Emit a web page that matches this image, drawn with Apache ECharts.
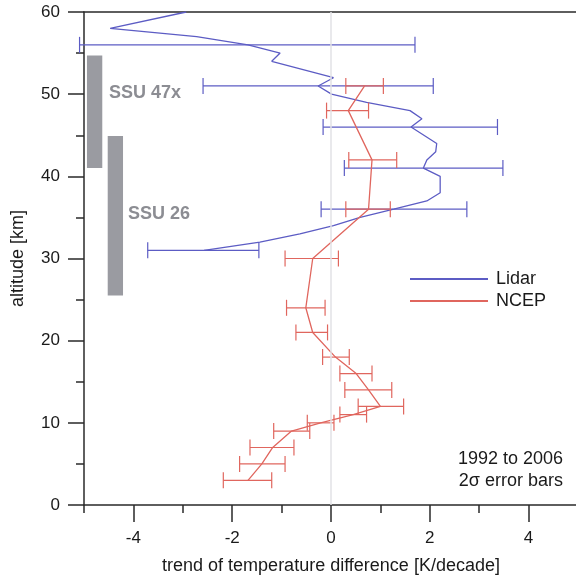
<!DOCTYPE html>
<html>
<head>
<meta charset="utf-8">
<script src="https://cdn.jsdelivr.net/npm/echarts@6/dist/echarts.min.js"></script>
<style>
html,body{margin:0;padding:0;background:#fff;}
#chart{width:576px;height:578px;}
</style>
</head>
<body>
<div id="chart"></div>
<script>
// Lidar trend profile (altitude km, trend K/decade)
const lidarAlt   = [60, 58, 57, 56, 55, 54, 52, 51, 50, 49, 48, 47, 46, 44, 43, 42, 41, 40, 38, 37, 36, 35, 34, 33, 32, 31];
const lidarTrend = [-2.93, -4.47, -2.72, -1.68, -1.03, -1.20, 0.05, -0.26, 0.01, 0.72, 1.60, 1.84, 1.62, 2.14, 2.12, 1.94, 1.87, 2.21, 2.21, 1.94, 1.27, 0.59, 0.05, -0.63, -1.44, -2.57];
// Lidar 2-sigma error bars
const lidarErrAlt  = [56, 51, 46, 41, 36, 31];
const lidarErrLow  = [-5.09, -2.59, -0.16, 0.27, -0.20, -3.71];
const lidarErrHigh = [1.70, 2.07, 3.37, 3.48, 2.75, -1.46];
// NCEP trend profile and error bars
const ncepAlt   = [51, 48, 42, 36, 30, 24, 21, 18, 16, 14, 12, 11, 10, 9, 7, 5, 3];
const ncepTrend = [0.68, 0.35, 0.83, 0.76, -0.37, -0.51, -0.37, 0.09, 0.51, 0.76, 1.00, 0.45, -0.21, -0.80, -1.18, -1.40, -1.68];
const ncepLow   = [0.30, -0.09, 0.36, 0.30, -0.93, -0.90, -0.71, -0.17, 0.18, 0.28, 0.55, 0.18, -0.48, -1.16, -1.64, -1.85, -2.18];
const ncepHigh  = [1.06, 0.76, 1.33, 1.20, 0.15, -0.12, -0.07, 0.37, 0.83, 1.23, 1.47, 0.72, 0.06, -0.43, -0.75, -0.93, -1.20];
// SSU channel weighting ranges
const ssuNames  = ['SSU 47x', 'SSU 26'];
const ssuLeft   = [-4.94, -4.52];
const ssuRight  = [-4.63, -4.21];
const ssuBottom = [41.0, 25.5];
const ssuTop    = [54.7, 44.9];
// Axis ticks
const xMajorTicks = [-4, -2, 0, 2, 4];

const FONT = 'Liberation Sans, Arial, Helvetica, sans-serif';
const BLUE = '#5c5cc4';
const RED = '#e0665e';
const AXIS = '#2a2a2a';

const zip = (xs, ys) => xs.map((x, i) => [x, ys[i]]);
const errData = (lo, hi, alt) => alt.map((a, i) => [lo[i], hi[i], a]);

function errorBarRenderer(color) {
  return function (params, api) {
    const a = api.coord([api.value(0), api.value(2)]);
    const b = api.coord([api.value(1), api.value(2)]);
    const h = 8;
    const style = { stroke: color, lineWidth: 1.2 };
    return {
      type: 'group',
      children: [
        { type: 'line', shape: { x1: a[0], y1: a[1], x2: b[0], y2: b[1] }, style },
        { type: 'line', shape: { x1: a[0], y1: a[1] - h, x2: a[0], y2: a[1] + h }, style },
        { type: 'line', shape: { x1: b[0], y1: b[1] - h, x2: b[0], y2: b[1] + h }, style }
      ]
    };
  };
}

const chart = echarts.init(document.getElementById('chart'), null, { renderer: 'canvas' });

const option = {
  backgroundColor: '#fff',
  animation: false,
  grid: { left: 84, right: -2, top: 12, bottom: 73, containLabel: false, outerBoundsMode: 'none' },
  legend: {
    data: ['Lidar', 'NCEP'],
    orient: 'vertical',
    left: 410,
    top: 270,
    padding: 0,
    itemWidth: 78,
    itemHeight: 2,
    itemGap: 4,
    icon: 'rect',
    textStyle: { fontFamily: FONT, fontSize: 18, color: '#1a1a1a', padding: [0, 0, 0, 3] }
  },
  xAxis: [
    {
      type: 'value', min: -5, max: 5, interval: 1, position: 'bottom',
      axisLine: { show: true, onZero: false, lineStyle: { color: AXIS, width: 1.5 } },
      axisTick: { show: true, length: 8, lineStyle: { color: AXIS, width: 1.5 } },
      axisLabel: {
        show: true, margin: 25, fontFamily: FONT, fontSize: 17, color: '#1a1a1a',
        customValues: xMajorTicks
      },
      splitLine: { show: false },
      name: 'trend of temperature difference [K/decade]',
      nameLocation: 'middle', nameGap: 52,
      nameTextStyle: { fontFamily: FONT, fontSize: 18, color: '#1a1a1a' }
    },
    {
      type: 'value', min: -5, max: 5, position: 'bottom',
      axisLine: { show: false, onZero: false },
      axisTick: { show: true, length: 17, customValues: xMajorTicks, lineStyle: { color: AXIS, width: 1.5 } },
      axisLabel: { show: false },
      splitLine: { show: false }
    },
    {
      type: 'value', min: -5, max: 5, position: 'top',
      axisLine: { show: true, onZero: false, lineStyle: { color: AXIS, width: 1.5 } },
      axisTick: { show: false },
      axisLabel: { show: false },
      splitLine: { show: false }
    }
  ],
  yAxis: {
    type: 'value', min: 0, max: 60, interval: 10, position: 'left',
    axisLine: { show: true, onZero: false, lineStyle: { color: AXIS, width: 1.5 } },
    axisTick: { show: true, length: 16, lineStyle: { color: AXIS, width: 1.5 } },
    minorTick: { show: true, splitNumber: 2, length: 8, lineStyle: { color: AXIS, width: 1.5 } },
    axisLabel: { margin: 24, fontFamily: FONT, fontSize: 17, color: '#1a1a1a' },
    splitLine: { show: false },
    name: 'altitude [km]',
    nameLocation: 'middle', nameGap: 57,
    nameTextStyle: { fontFamily: FONT, fontSize: 18, color: '#1a1a1a' }
  },
  graphic: [
    { type: 'text', left: 109, top: 84, style: { text: ssuNames[0], font: 'bold 18px ' + FONT, fill: '#8c8d93' } },
    { type: 'text', left: 128, top: 205, style: { text: ssuNames[1], font: 'bold 18px ' + FONT, fill: '#8c8d93' } },
    { type: 'text', right: 13, top: 450, style: { text: '1992 to 2006', font: '18px ' + FONT, fill: '#1a1a1a', align: 'right' } },
    { type: 'text', right: 13, top: 472, style: { text: '2σ error bars', font: '18px ' + FONT, fill: '#1a1a1a', align: 'right' } }
  ],
  series: [
    {
      name: 'SSU', type: 'custom', z: 1, clip: false,
      data: ssuNames.map((n, i) => [ssuLeft[i], ssuRight[i], ssuBottom[i], ssuTop[i]]),
      encode: { x: [0, 1], y: [2, 3] },
      renderItem: function (params, api) {
        const p0 = api.coord([api.value(0), api.value(3)]);
        const p1 = api.coord([api.value(1), api.value(2)]);
        return { type: 'rect', shape: { x: p0[0], y: p0[1], width: p1[0] - p0[0], height: p1[1] - p0[1] }, style: { fill: '#9a9ba1' } };
      },
      markLine: {
        silent: true, symbol: 'none', label: { show: false },
        lineStyle: { color: '#e2e2e6', width: 1.5, type: 'solid' },
        data: [{ xAxis: 0 }]
      }
    },
    {
      name: 'Lidar', type: 'line', z: 3,
      data: zip(lidarTrend, lidarAlt),
      symbol: 'none', showSymbol: false,
      lineStyle: { color: BLUE, width: 1.3 },
      itemStyle: { color: BLUE }
    },
    {
      name: 'Lidar error', type: 'custom', z: 3, clip: false,
      data: errData(lidarErrLow, lidarErrHigh, lidarErrAlt),
      encode: { x: [0, 1], y: 2 },
      renderItem: errorBarRenderer(BLUE)
    },
    {
      name: 'NCEP', type: 'line', z: 4,
      data: zip(ncepTrend, ncepAlt),
      symbol: 'none', showSymbol: false,
      lineStyle: { color: RED, width: 1.3 },
      itemStyle: { color: RED }
    },
    {
      name: 'NCEP error', type: 'custom', z: 4, clip: false,
      data: errData(ncepLow, ncepHigh, ncepAlt),
      encode: { x: [0, 1], y: 2 },
      renderItem: errorBarRenderer(RED)
    }
  ]
};
chart.setOption(option);
</script>
</body>
</html>
